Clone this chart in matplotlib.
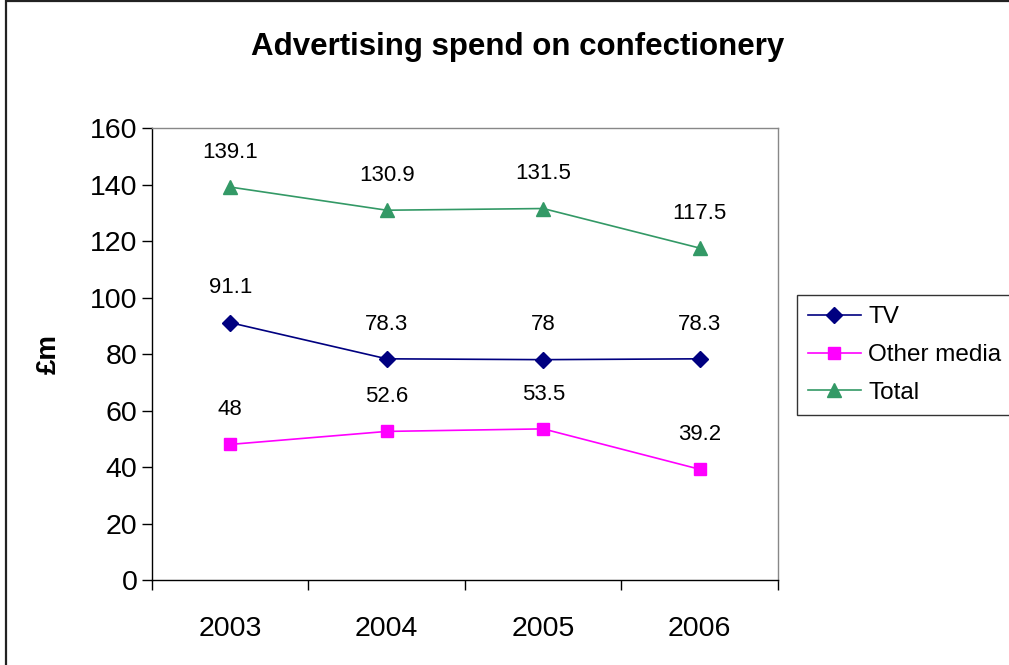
import matplotlib
matplotlib.use("Agg")
from matplotlib import pyplot as plt
from matplotlib.patches import Rectangle

plt.rcParams['font.family'] = ['Liberation Sans', 'DejaVu Sans']

years = ['2003', '2004', '2005', '2006']
tv = [91.1, 78.3, 78, 78.3]
other_media = [48, 52.6, 53.5, 39.2]
total = [139.1, 130.9, 131.5, 117.5]

fig = plt.figure(figsize=(10.09, 6.65), dpi=100)
ax = fig.add_axes([0.1506, 0.1278, 0.6204, 0.6797])

x = list(range(len(years)))
series = [
    ('TV', tv, '#000080', 'D', 8),
    ('Other media', other_media, '#FF00FF', 's', 8),
    ('Total', total, '#339966', '^', 10),
]
for name, vals, col, mk, ms in series:
    ax.plot(x, vals, color=col, marker=mk, markersize=ms, linewidth=1.2, label=name)
    for xi, v in zip(x, vals):
        ax.annotate('%g' % v, (xi, v), xytext=(0, 25), textcoords='offset points',
                    ha='center', va='center', fontsize=16)

ax.set_xlim(-0.5, 3.5)
ax.set_ylim(0, 160)
ax.set_yticks(range(0, 161, 20))
ax.tick_params(axis='y', labelsize=20.5, length=7, width=1, direction='out')
ax.set_xticks(x)
ax.set_xticklabels(years, fontsize=20.5)
ax.tick_params(axis='x', length=0, pad=26)
# category separators below the x axis
ax.set_xticks([-0.5, 0.5, 1.5, 2.5, 3.5], minor=True)
ax.tick_params(axis='x', which='minor', length=7, width=1, direction='out')

for s in ['left', 'bottom']:
    ax.spines[s].set_color('black')
    ax.spines[s].set_linewidth(1)
for s in ['top', 'right']:
    ax.spines[s].set_color('#888888')
    ax.spines[s].set_linewidth(1)

ax.set_ylabel('£m', fontsize=20, fontweight='bold', labelpad=20)
fig.text(0.513, 0.93, 'Advertising spend on confectionery', ha='center', va='center',
         fontsize=22.5, fontweight='bold')

leg = ax.legend(loc='upper left', bbox_to_anchor=(1.03, 0.63), fontsize=17.5,
                frameon=True, fancybox=False, borderpad=0.45, labelspacing=0.65,
                handlelength=2.2, handletextpad=0.3, borderaxespad=0)
leg.get_frame().set_edgecolor('black')
leg.get_frame().set_linewidth(1)

# chart border
fig.patches.append(Rectangle((0.006, -0.01), 1.05, 1.008, transform=fig.transFigure,
                             fill=False, edgecolor='#222222', linewidth=1.6))

fig.savefig('out.png', dpi=100)
